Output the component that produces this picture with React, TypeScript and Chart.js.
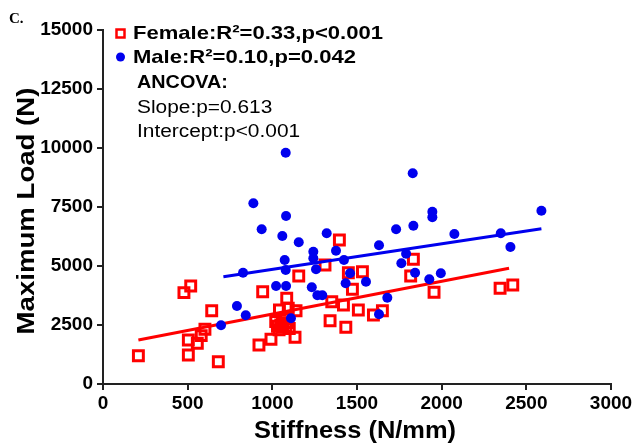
import React, { useEffect, useRef } from "react";
import { Chart, registerables } from "chart.js";

Chart.register(...registerables);

const xTicks = [0, 500, 1000, 1500, 2000, 2500, 3000];
const yTicks = [0, 2500, 5000, 7500, 10000, 12500, 15000];

const femaleStiffness = [209, 478, 518, 504, 504, 557, 602, 580, 642, 681, 921, 992, 943, 1156, 1085, 1042, 1094, 1140, 1134, 1020, 1060, 1090, 1040, 1100, 1070, 1050, 1030, 1080, 1060, 1311, 1396, 1449, 1532, 1473, 1351, 1420, 1508, 1341, 1434, 1597, 1650, 1833, 1817, 1955, 2345, 2420];
const femaleLoad = [1200, 3870, 4152, 1864, 1229, 1724, 2318, 2050, 3106, 945, 1652, 1894, 3911, 4576, 3631, 3135, 3207, 3106, 1979, 2650, 2400, 2600, 2300, 2350, 2750, 2500, 2450, 2450, 2550, 5042, 6101, 4716, 4758, 4012, 3487, 3347, 3135, 2682, 2402, 2924, 3106, 5283, 4576, 3885, 4055, 4195];

const maleStiffness = [1079, 888, 1081, 937, 1059, 1156, 1321, 1242, 1376, 1242, 1073, 1423, 1079, 1258, 827, 1459, 1433, 1022, 1081, 1233, 1266, 1295, 791, 843, 1110, 697, 1829, 1945, 1945, 2589, 1731, 1833, 2075, 2349, 2406, 1630, 1790, 1762, 1843, 1927, 1995, 1553, 1679, 1630];
const maleLoad = [9800, 7656, 7118, 6555, 6271, 6004, 6385, 5606, 5648, 5326, 5254, 5254, 4830, 4859, 4716, 4690, 4266, 4152, 4152, 4097, 3758, 3758, 3305, 2911, 2784, 2487, 8927, 7300, 7063, 7343, 6555, 6707, 6356, 6385, 5805, 5877, 5521, 5113, 4716, 4436, 4690, 4335, 3657, 2953];

const femaleFitX = [209, 2398];
const femaleFitY = [1864, 4902];
const maleFitX = [711, 2589];
const maleFitY = [4547, 6582];

const legendLines = ["Female:R\u00B2=0.33,p<0.001", "Male:R\u00B2=0.10,p=0.042"];
const noteTitle = "ANCOVA:";
const noteLines = ["Slope:p=0.613", "Intercept:p<0.001"];
const xTitle = "Stiffness (N/mm)";
const yTitle = "Maximum Load (N)";
const panelLabel = "C.";

const RED = "#ff0000";
const BLUE = "#0000ee";
const AXIS = "#222222";
const FONT = "'Liberation Sans', Arial, sans-serif";

const pts = (xs: number[], ys: number[]) => xs.map((x, i) => ({ x, y: ys[i] }));

const drawText = (ctx: any, text: string, x: number, y: number, sx: number, rot = 0) => {
  ctx.save();
  ctx.translate(x, y);
  if (rot) ctx.rotate(rot);
  ctx.scale(sx, 1);
  ctx.fillText(text, 0, 0);
  ctx.restore();
};

const textPlugin = {
  id: "textPlugin",
  afterDraw(chart: any) {
    const ctx = chart.ctx;
    const area = chart.chartArea;
    ctx.save();
    ctx.fillStyle = "#000";
    ctx.font = `bold 15px 'Liberation Serif', 'Times New Roman', serif`;
    ctx.textAlign = "left";
    ctx.textBaseline = "middle";
    ctx.fillText(panelLabel, 9, 19);
    ctx.font = `bold 24px ${FONT}`;
    ctx.textAlign = "center";
    drawText(ctx, xTitle, (area.left + area.right) / 2 - 2, 431, 1.06);
    drawText(ctx, yTitle, 27, 211, 1.15, -Math.PI / 2);
    ctx.textAlign = "left";
    ctx.font = `bold 19px ${FONT}`;
    ctx.strokeStyle = RED;
    ctx.lineWidth = 2.5;
    ctx.strokeRect(116.5, 29.5, 8, 8);
    drawText(ctx, legendLines[0], 133, 34, 1.16);
    ctx.fillStyle = BLUE;
    ctx.beginPath();
    ctx.arc(120.5, 57, 4.5, 0, Math.PI * 2);
    ctx.fill();
    ctx.fillStyle = "#000";
    drawText(ctx, legendLines[1], 133, 58, 1.16);
    ctx.font = `bold 18px ${FONT}`;
    drawText(ctx, noteTitle, 137, 83, 1.1);
    ctx.font = `18px ${FONT}`;
    drawText(ctx, noteLines[0], 137, 108, 1.16);
    drawText(ctx, noteLines[1], 137, 132, 1.16);
    ctx.restore();
  },
};

export default function App() {
  const ref = useRef<HTMLCanvasElement | null>(null);
  useEffect(() => {
    if (!ref.current) return;
    const chart = new Chart(ref.current, {
      type: "scatter",
      data: {
        datasets: [
          {
            label: "Male fit",
            data: pts(maleFitX, maleFitY),
            showLine: true,
            borderColor: BLUE,
            borderWidth: 3,
            pointRadius: 0,
          },
          {
            label: "Male",
            data: pts(maleStiffness, maleLoad),
            pointStyle: "circle",
            pointRadius: 5,
            backgroundColor: BLUE,
            borderColor: BLUE,
            borderWidth: 0,
          },
          {
            label: "Female fit",
            data: pts(femaleFitX, femaleFitY),
            showLine: true,
            borderColor: RED,
            borderWidth: 3,
            pointRadius: 0,
          },
          {
            label: "Female",
            data: pts(femaleStiffness, femaleLoad),
            pointStyle: "rect",
            pointRadius: 7,
            backgroundColor: "rgba(0,0,0,0)",
            borderColor: RED,
            borderWidth: 3,
          },
        ],
      },
      options: {
        responsive: false,
        animation: false,
        devicePixelRatio: 1,
        layout: { padding: { left: 0, right: 25, top: 30, bottom: 0 } },
        plugins: { legend: { display: false }, tooltip: { enabled: false } },
        scales: {
          x: {
            type: "linear",
            min: 0,
            max: 3000,
            afterBuildTicks: (s: any) => {
              s.ticks = xTicks.map((v) => ({ value: v }));
            },
            afterFit: (s: any) => {
              s.height = 62;
            },
            ticks: {
              color: "#000",
              font: { family: FONT, size: 19, weight: "bold" },
              padding: 2,
              callback: (v: any) => String(v),
            },
            grid: {
              display: true,
              drawOnChartArea: false,
              drawTicks: true,
              tickLength: 6,
              color: AXIS,
              lineWidth: 2,
            },
            border: { display: true, color: AXIS, width: 2 },
          },
          y: {
            type: "linear",
            min: 0,
            max: 15000,
            afterBuildTicks: (s: any) => {
              s.ticks = yTicks.map((v) => ({ value: v }));
            },
            afterFit: (s: any) => {
              s.width = 103;
            },
            ticks: {
              color: "#000",
              font: { family: FONT, size: 19, weight: "bold" },
              padding: 4,
              callback: (v: any) => String(v),
            },
            grid: {
              display: true,
              drawOnChartArea: false,
              drawTicks: true,
              tickLength: 6,
              color: AXIS,
              lineWidth: 2,
            },
            border: { display: true, color: AXIS, width: 2 },
          },
        },
      },
      plugins: [textPlugin],
    });
    return () => chart.destroy();
  }, []);
  return (
    <div style={{ position: "absolute", left: 0, top: 0, width: 636, height: 446, background: "#fff" }}>
      <canvas ref={ref} width={636} height={446} />
    </div>
  );
}
